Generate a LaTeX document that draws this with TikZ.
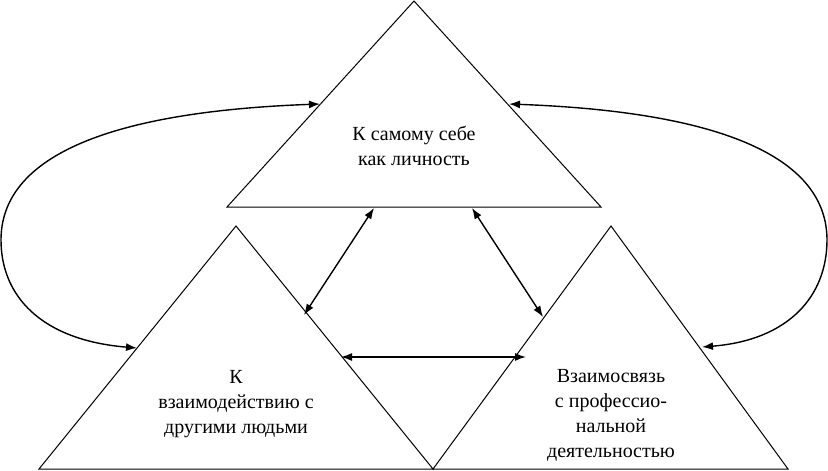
\documentclass[tikz,border=0pt]{standalone}
\usepackage{fontspec}
\setmainfont{Liberation Serif}
\usetikzlibrary{arrows.meta}
\begin{document}
\begin{tikzpicture}[x=1pt,y=-1pt,
  tri/.style={draw,line width=1pt,line join=miter},
  link/.style={line width=1.4pt,{Latex[length=11pt,width=8pt]}-{Latex[length=11pt,width=8pt]}},
  lbl/.style={font=\fontsize{20}{25}\selectfont,align=center,inner sep=0pt}]
\useasboundingbox (0,0) rectangle (828,471);
% triangles
\coordinate (TA) at (414,1);   \coordinate (TL) at (227,207); \coordinate (TR) at (601,207);
\coordinate (LA) at (236,226); \coordinate (LL) at (39,469);  \coordinate (LR) at (433,469);
\coordinate (RA) at (611,226); \coordinate (RL) at (433,469); \coordinate (RR) at (788,469);
\draw[tri] (TA) -- (TL) -- (TR) -- cycle;
\draw[tri] (LA) -- (LL) -- (LR) -- cycle;
\draw[tri] (RA) -- (RL) -- (RR) -- cycle;
% labels
\node[lbl] (ttext) at (414,146) {К самому себе\\как личность};
\node[lbl] (ltext) at (236,404) {К\\взаимодействию с\\другими людьми};
\node[lbl] (rtext) at (611,415) {Взаимосвязь\\с профессио-\\нальной\\деятельностью};
% connector end points
\coordinate (c1a) at (320,104); \coordinate (c1b) at (137,348); \coordinate (lw) at (1,240);
\coordinate (c2a) at (509,104); \coordinate (c2b) at (702,347); \coordinate (rw) at (827,240);
\coordinate (m1a) at (304,315); \coordinate (m1b) at (374,208);
\coordinate (m2a) at (472,208); \coordinate (m2b) at (543,317);
\coordinate (m3a) at (341,357); \coordinate (m3b) at (526,357);
% connectors
\draw[link] (c1b) .. controls (40,340) and (1,295) .. (lw) .. controls (1,160) and (100,112) .. (c1a);
\draw[link] (c2a) .. controls (728,112) and (827,160) .. (rw) .. controls (827,295) and (790,340) .. (c2b);
\draw[link] (m1a) -- (m1b);
\draw[link] (m2a) -- (m2b);
\draw[link] (m3a) -- (m3b);
\end{tikzpicture}
\end{document}
